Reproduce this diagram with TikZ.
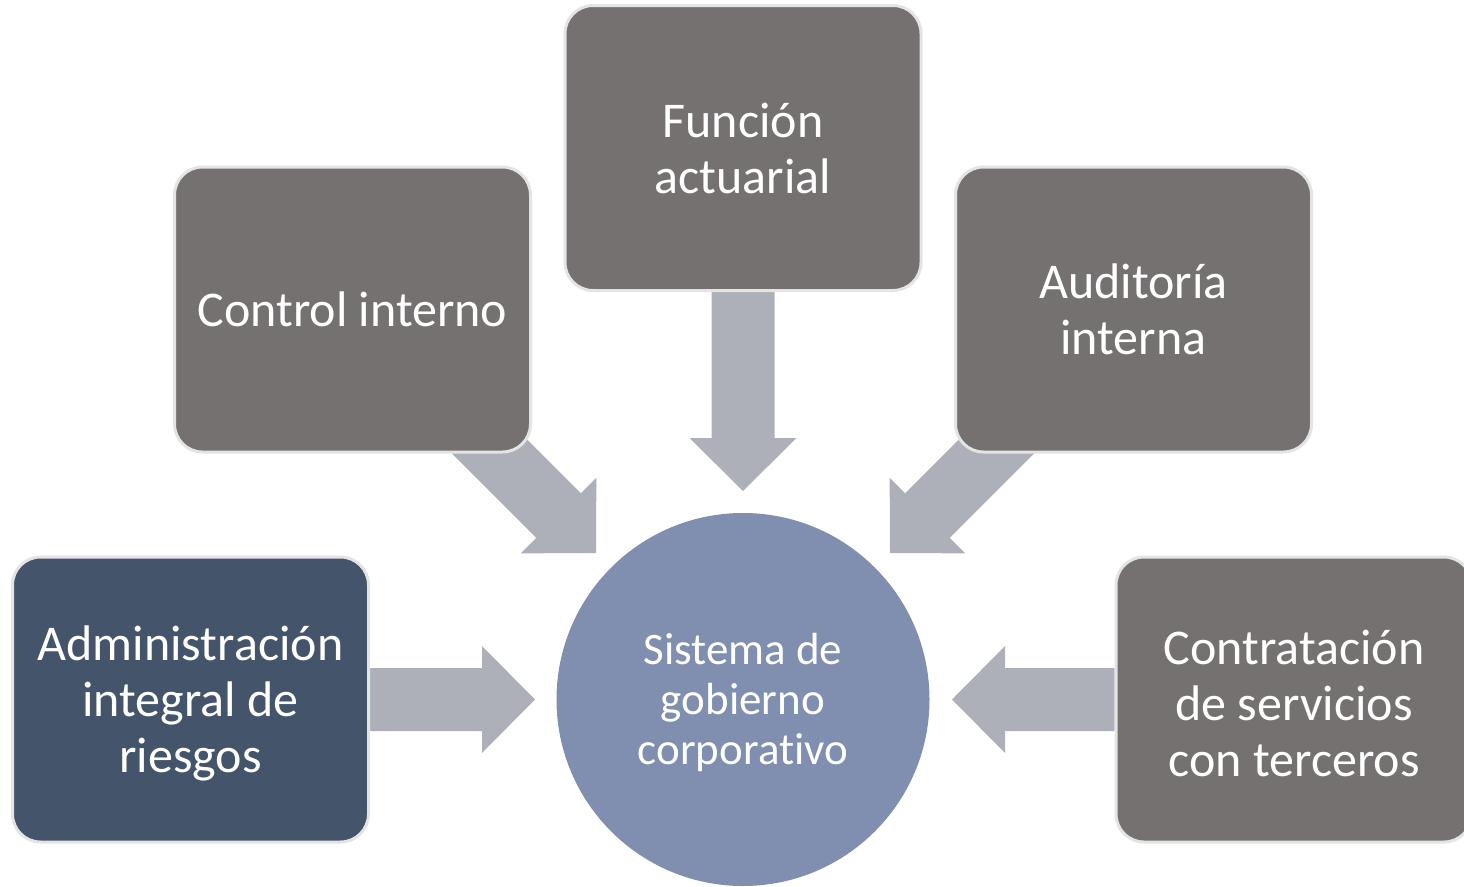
\documentclass[tikz,border=0pt]{standalone}
\usepackage{fontspec}
\setmainfont{Carlito}[Ligatures=CommonOff]
\usetikzlibrary{calc}
\pgfdeclarelayer{bg}
\pgfsetlayers{bg,main}
\definecolor{boxgray}{RGB}{118,113,113}
\definecolor{navy}{RGB}{68,84,106}
\definecolor{circblue}{RGB}{128,143,176}
\definecolor{arrowgray}{RGB}{173,176,184}
\definecolor{rim}{RGB}{228,228,228}
\newcommand\fatarrow[2]{%
  \coordinate (B) at ($(#2)!53pt!(#1)$);
  \fill[arrowfill] ($(#1)!31.5pt!90:(#2)$) -- ($(B)!31.5pt!90:(#2)$) -- ($(B)!53.5pt!90:(#2)$)
    -- (#2) -- ($(B)!53.5pt!-90:(#2)$) -- ($(B)!31.5pt!-90:(#2)$) -- ($(#1)!31.5pt!-90:(#2)$) -- cycle;}
\begin{document}
\begin{tikzpicture}[x=1pt,y=-1pt,
  blk/.style={rectangle, rounded corners=28pt, minimum width=356pt, minimum height=285pt,
    draw=rim, line width=3pt, fill=boxgray, text=white, align=center,
    font=\fontsize{50}{56}\selectfont, inner sep=0pt},
  lowered/.style={label={[text=white, align=center, font=\fontsize{50}{56}\selectfont]center:#1}},
  arrowfill/.style={fill=arrowgray}]
\useasboundingbox (0,0) rectangle (1464,886);
\node[blk] (ctrl) at (352.5,309.5) {Control interno};
\node[blk] (func) at (743,148) {Función\\actuarial};
\node[blk] (aud) at (1133.5,309.5) {Auditoría\\interna};
\node[blk, fill=navy] (adm) at (190.5,699.5) {};
\node[text=white, align=center, font=\fontsize{50}{56}\selectfont, inner sep=0pt] (admtxt) at ($(adm.center)+(0,4)$) {Administración\\integral de\\riesgos};
\node[blk] (cont) at (1294,699.5) {};
\node[text=white, align=center, font=\fontsize{50}{56}\selectfont, inner sep=0pt] (conttxt) at ($(cont.center)+(0,4)$) {Contratación\\de servicios\\con terceros};
\node[circle, minimum size=373pt, inner sep=0pt, fill=circblue] (sys) at (743,699.5) {};
\node[text=white, align=center, font=\fontsize{45}{50}\selectfont, inner sep=0pt] (systxt) at ($(sys.center)+(0,3)$) {Sistema de\\gobierno\\corporativo};
\coordinate (tdown) at (743,491);
\coordinate (tleft) at (535,699.5);
\coordinate (tright) at (952,699.5);
\coordinate (tdl) at (596,553);
\coordinate (tdr) at (890,553);
\begin{pgfonlayer}{bg}
\fatarrow{func.south}{tdown}
\fatarrow{adm.east}{tleft}
\fatarrow{cont.west}{tright}
\fatarrow{ctrl.center}{tdl}
\fatarrow{aud.center}{tdr}
\end{pgfonlayer}
\end{tikzpicture}
\end{document}
